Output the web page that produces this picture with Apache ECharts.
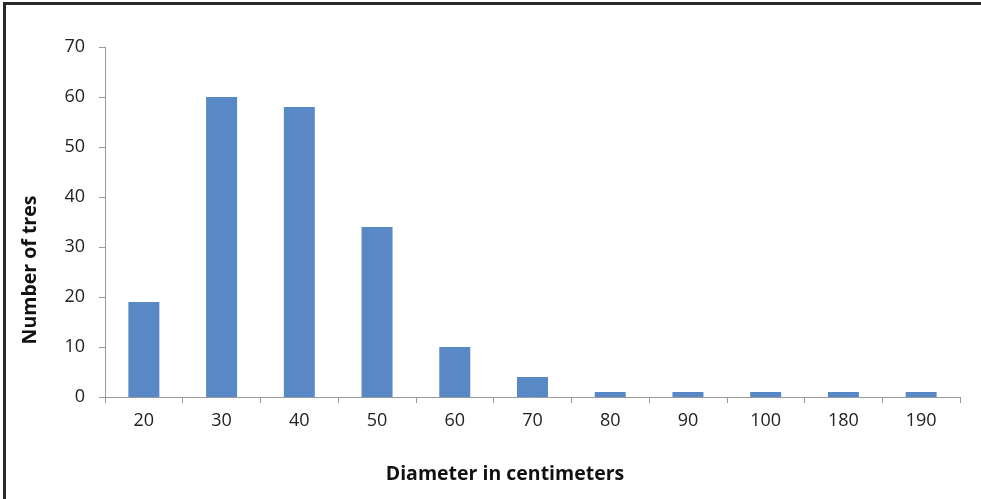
<!DOCTYPE html>
<html><head><meta charset="utf-8">
<script src="https://cdn.jsdelivr.net/npm/echarts@6/dist/echarts.min.js"></script>
<style>html,body{margin:0;padding:0;background:#fff}#c{width:981px;height:499px}</style>
</head><body><div id="c"></div>
<script>
const categories = ['20','30','40','50','60','70','80','90','100','180','190'];
const values = [19, 60, 58, 34, 10, 4, 1, 1, 1, 1, 1];
const yTicks = {min: 0, max: 70, interval: 10};
const xTitle = 'Diameter in centimeters';
const yTitle = 'Number of tres';
const chart = echarts.init(document.getElementById('c'));
const font = '"Open Sans", Lato, sans-serif';
chart.setOption({
  animation: false,
  grid: {left: 105, right: 21, top: 47, bottom: 102, containLabel: false},
  graphic: [{
    type: 'polyline', silent: true,
    shape: {points: [[4.5, 499], [4.5, 3.5], [981, 3.5]]},
    style: {stroke: '#2a2a2a', lineWidth: 3, fill: null}
  }, {
    type: 'text', silent: true, x: 505, y: 474,
    style: {text: xTitle, font: 'bold 19.5px ' + font, fill: '#111', align: 'center', verticalAlign: 'middle'}
  }, {
    type: 'text', silent: true, x: 30, y: 270, rotation: Math.PI / 2,
    style: {text: yTitle, font: 'bold 19.5px ' + font, fill: '#111', align: 'center', verticalAlign: 'middle'}
  }],
  xAxis: {
    type: 'category', data: categories,
    axisLine: {lineStyle: {color: '#9a9a9a', width: 1}},
    axisTick: {show: true, length: 6, lineStyle: {color: '#9a9a9a'}},
    axisLabel: {fontFamily: font, fontSize: 18, color: '#222', margin: 15}
  },
  yAxis: {
    type: 'value', min: yTicks.min, max: yTicks.max, interval: yTicks.interval,
    axisLine: {show: true, lineStyle: {color: '#9a9a9a', width: 1}},
    axisTick: {show: true, length: 6, lineStyle: {color: '#9a9a9a'}},
    splitLine: {show: false},
    axisLabel: {fontFamily: font, fontSize: 18, color: '#222', margin: 20}
  },
  series: [{
    type: 'bar', data: values, barWidth: 31,
    itemStyle: {color: '#5888c5'}
  }]
});
</script></body></html>
